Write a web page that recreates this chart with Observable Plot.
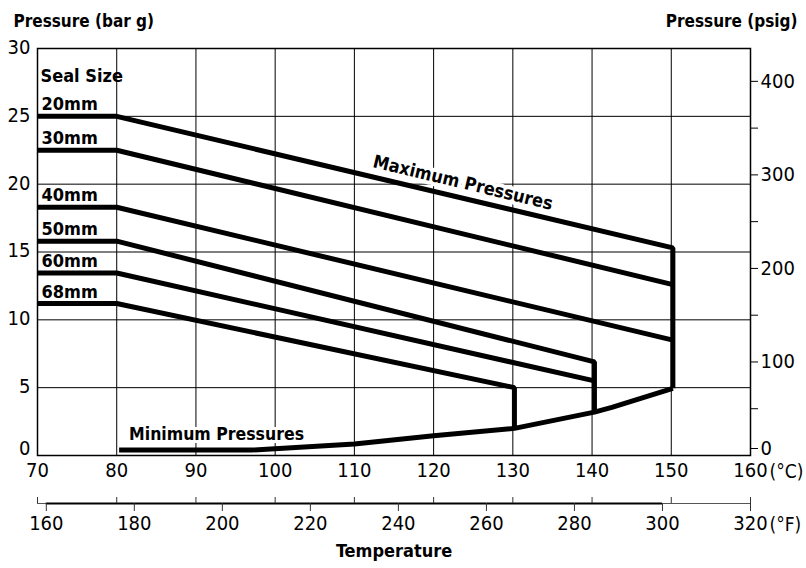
<!DOCTYPE html>
<html><head><meta charset="utf-8">
<script src="https://cdn.jsdelivr.net/npm/d3@7"></script>
<script src="https://cdn.jsdelivr.net/npm/@observablehq/plot@0.6"></script>
<style>
body{margin:0;background:#fff;}
#chart svg, #chart svg text{font-family:"DejaVu Sans Condensed","DejaVu Sans",sans-serif; font-stretch:condensed;}
</style></head><body><div id="chart"></div>
<script>
// ---- data ----
const sealSizes     = ["20mm", "30mm", "40mm", "50mm", "60mm", "68mm"];
const startTemp     = 70;     // °C, lines start at left edge
const kneeTemp      = 80;     // °C, end of flat part
const flatPressure  = [25, 22.5, 18.3, 15.8, 13.45, 11.2];   // bar g
const endTemp       = [150.2, 150.2, 150.2, 140.3, 140.3, 130.2];
const endPressure   = [15.3, 12.6, 8.5, 6.9, 5.5, 5.0];
const dropBottom    = [4.95, null, null, 3.2, null, 2.0];   // vertical drop to minimum curve

const minTemp       = [80.3, 97, 110, 120, 130.2, 140.3, 142.5, 150.2];
const minPressure   = [0.4, 0.4, 0.85, 1.45, 2.0, 3.2, 3.55, 4.95];

const cTicks        = [70, 80, 90, 100, 110, 120, 130, 140, 150, 160];
const fTicks        = [160, 180, 200, 220, 240, 260, 280, 300, 320];
const barTicks      = [0, 5, 10, 15, 20, 25, 30];
const psigTicks     = [0, 50, 100, 150, 200, 250, 300, 350, 400];
const psigLabelStep = 100;
const PSI_PER_BAR   = 14.5038;

const toC = f => (f - 32) * 5 / 9;

const sealRows = [];
sealSizes.forEach((s, i) => {
  sealRows.push({seal: s, t: startTemp, p: flatPressure[i]});
  sealRows.push({seal: s, t: kneeTemp, p: flatPressure[i]});
  sealRows.push({seal: s, t: endTemp[i], p: endPressure[i]});
  if (dropBottom[i] != null) sealRows.push({seal: s, t: endTemp[i], p: dropBottom[i]});
});
const labelRows = sealSizes.map((s, i) => ({seal: s, t: startTemp, p: flatPressure[i]}));
const minRows = minTemp.map((t, i) => ({t, p: minPressure[i]}));
const psigFmt = d => { const p = Math.round(d * PSI_PER_BAR); return p % psigLabelStep === 0 ? p : ""; };

const FONT = '"DejaVu Sans Condensed","DejaVu Sans",sans-serif';

const chart = Plot.plot({
  width: 806, height: 568,
  marginLeft: 37, marginRight: 56, marginTop: 48, marginBottom: 113,
  style: {fontSize: "20px", fontFamily: FONT, background: "white", color: "black", overflow: "visible"},
  x: {domain: [70, 160]},
  y: {domain: [0, 30]},
  marks: [
    Plot.gridX(cTicks, {stroke: "black", strokeOpacity: 1, strokeWidth: 1}),
    Plot.gridY(barTicks, {stroke: "black", strokeOpacity: 1, strokeWidth: 1}),
    Plot.frame({stroke: "black", strokeWidth: 1.5}),
    // left axis (bar g); the 0 label sits slightly raised as in the reference
    Plot.axisY(barTicks.filter(d => d > 0), {anchor: "left", tickSize: 0, tickPadding: 7, dy: -1, label: null, fontSize: 20}),
    Plot.axisY(barTicks.filter(d => d === 0), {anchor: "left", tickSize: 0, tickPadding: 7, dy: -7, label: null, fontSize: 20}),
    // right axis (psig)
    Plot.axisY(psigTicks.filter(p => p > 0).map(p => p / PSI_PER_BAR), {
      anchor: "right", tickSize: 7, tickPadding: 3, label: null, fontSize: 20, tickFormat: psigFmt
    }),
    Plot.axisY(psigTicks.filter(p => p === 0).map(p => p / PSI_PER_BAR), {
      anchor: "right", tickSize: 7, tickPadding: 3, dy: -7, label: null, fontSize: 20, tickFormat: psigFmt
    }),
    // °C axis
    Plot.axisX(cTicks, {anchor: "bottom", tickSize: 0, tickPadding: 7, label: null, fontSize: 20}),
    // °F axis line
    Plot.ruleY([0], {dy: 48, stroke: "#555", strokeWidth: 1.2}),
    Plot.ruleY([0], {x1: toC(fTicks[0]), x2: toC(fTicks[fTicks.length - 2]), dy: 48, stroke: "black", strokeWidth: 2}),
    Plot.axisX(cTicks, {anchor: "bottom", dy: 42, tickSize: 6, tickFormat: () => "", label: null, stroke: "#333"}),
    Plot.axisX(fTicks.map(toC), {
      anchor: "bottom", dy: 48, tickSize: 8, tickPadding: 4, label: null, fontSize: 20, stroke: "#333",
      tickFormat: d => Math.round(d * 9 / 5 + 32)
    }),
    Plot.text(["(°C)"], {frameAnchor: "bottom-right", dx: 19, dy: 16, textAnchor: "start", lineAnchor: "middle", fontSize: 19}),
    Plot.text(["(°F)"], {frameAnchor: "bottom-right", dx: 19, dy: 69, textAnchor: "start", lineAnchor: "middle", fontSize: 19}),
    Plot.text(["Temperature"], {frameAnchor: "bottom", dy: 96, lineAnchor: "middle", fontSize: 18, fontWeight: "bold"}),
    // titles
    Plot.text(["Pressure (bar g)"], {frameAnchor: "top-left", dx: -24, dy: -22, textAnchor: "start", lineAnchor: "bottom", fontSize: 17, fontWeight: "bold"}),
    Plot.text(["Pressure (psig)"], {frameAnchor: "top-right", dx: 47, dy: -22, textAnchor: "end", lineAnchor: "bottom", fontSize: 17, fontWeight: "bold"}),
    // annotations
    Plot.text(["Maximum Pressures"], {x: 123.7, y: 20.1, rotate: 13.5, fontSize: 18, fontWeight: "bold", stroke: "white", strokeWidth: 8, fill: "black"}),
    Plot.text(["Minimum Pressures"], {x: 92.6, y: 1.55, fontSize: 17.5, fontWeight: "bold", stroke: "white", strokeWidth: 6, fill: "black"}),
    // data lines
    Plot.line(sealRows, {x: "t", y: "p", z: "seal", stroke: "black", strokeWidth: 5, strokeLinejoin: "miter", strokeLinecap: "butt"}),
    Plot.line(minRows, {x: "t", y: "p", stroke: "black", strokeWidth: 5, strokeLinejoin: "round", strokeLinecap: "butt"}),
    // seal labels
    Plot.text(labelRows, {x: "t", y: "p", text: "seal", dx: 4, dy: -6, textAnchor: "start", lineAnchor: "bottom", fontSize: 18, fontWeight: "bold"}),
    Plot.text(["Seal Size"], {x: startTemp, y: flatPressure[0], dx: 3, dy: -34, textAnchor: "start", lineAnchor: "bottom", fontSize: 18, fontWeight: "bold"})
  ]
});
document.getElementById("chart").append(chart);
</script></body></html>
